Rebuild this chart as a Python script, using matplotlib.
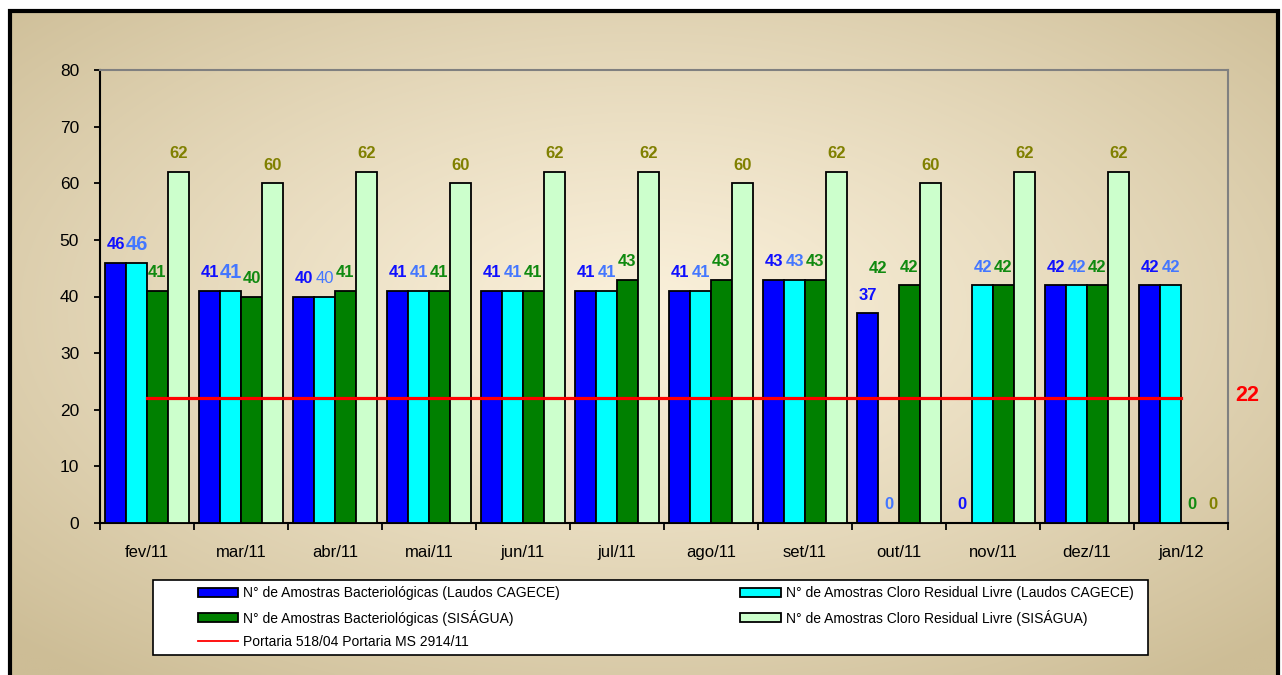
import numpy as np
import matplotlib.pyplot as plt
from matplotlib.patches import Rectangle, Patch
from matplotlib.lines import Line2D

plt.rcParams['font.family'] = ['Liberation Sans', 'DejaVu Sans']

# dados
meses = ['fev/11', 'mar/11', 'abr/11', 'mai/11', 'jun/11', 'jul/11',
         'ago/11', 'set/11', 'out/11', 'nov/11', 'dez/11', 'jan/12']
bact_cagece = [46, 41, 40, 41, 41, 41, 41, 43, 37, 0, 42, 42]
cloro_cagece = [46, 41, 40, 41, 41, 41, 41, 43, 0, 42, 42, 42]
bact_sisagua = [41, 40, 41, 41, 41, 43, 43, 43, 42, 42, 42, 0]
cloro_sisagua = [62, 60, 62, 60, 62, 62, 60, 62, 60, 62, 62, 0]
portaria = 22

nomes = ['N° de Amostras Bacteriológicas (Laudos CAGECE)',
         'N° de Amostras Cloro Residual Livre (Laudos CAGECE)',
         'N° de Amostras Bacteriológicas (SISÁGUA)',
         'N° de Amostras Cloro Residual Livre (SISÁGUA)',
         'Portaria 518/04 Portaria MS 2914/11']

W, H = 1282, 675
fig = plt.figure(figsize=(W / 100, H / 100), dpi=100)
fig.patch.set_facecolor('white')

# fundo em degradê bege
bg = fig.add_axes([9 / W, 0, 1270 / W, 665 / H], zorder=-10)
yy, xx = np.mgrid[0:1:300j, 0:1:600j]
r = np.sqrt(((xx - 0.5) / 0.5) ** 2 + ((yy - 0.45) / 0.5) ** 2) / np.sqrt(2)
t = np.clip(r, 0, 1) ** 1.2
centro = np.array([250, 240, 218]) / 255
borda = np.array([205, 189, 150]) / 255
bg.imshow(centro + (borda - centro) * t[..., None], aspect='auto',
          extent=(0, 1, 0, 1), interpolation='bilinear')
bg.axis('off')

fig.patches.append(Rectangle((10 / W, -0.05), 1268 / W, 664 / H + 0.05,
                             transform=fig.transFigure, fill=False,
                             edgecolor='black', lw=3, zorder=-5))

ax = fig.add_axes([100 / W, 152 / H, 1128 / W, 453 / H])
ax.patch.set_alpha(0)

x = np.arange(len(meses))
w = 0.223
series = [
    (bact_cagece, '#0000ff', '#1010ff'),
    (cloro_cagece, '#00ffff', '#4477ff'),
    (bact_sisagua, '#008000', '#108a10'),
    (cloro_sisagua, '#ccffcc', '#808000'),
]
# rótulos com tamanho diferente no original
tamanho = {(1, 0): 14.5, (1, 1): 14.5}
peso = {(1, 2): 'normal'}

for k, (vals, cor, cor_txt) in enumerate(series):
    pos = x + (k - 1.5) * w
    ax.bar(pos, vals, width=w, color=cor, edgecolor='black', lw=1.3, zorder=3)
    for i, (px, v) in enumerate(zip(pos, vals)):
        ax.annotate(str(v), (px, v), xytext=(0, 13), textcoords='offset points',
                    ha='center', va='center', color=cor_txt,
                    fontsize=tamanho.get((k, i), 12),
                    fontweight=peso.get((k, i), 'bold'))

# rótulo deslocado que aparece em out/11
ax.annotate(str(bact_sisagua[8]), (x[8] - w, bact_sisagua[8]), xytext=(0, 12),
            textcoords='offset points', ha='center', va='center',
            color='#108a10', fontsize=12, fontweight='bold')

ax.plot(x, [portaria] * len(x), color='red', lw=2.3, zorder=5)
ax.text(1.017, portaria + 0.5, str(portaria), transform=ax.get_yaxis_transform(),
        ha='center', va='center', color='red', fontsize=15.5, fontweight='bold')

ax.set_xlim(-0.5, len(meses) - 0.5)
ax.set_ylim(0, 80)
ax.set_yticks(range(0, 81, 10))
ax.set_xticks(x)
ax.set_xticklabels(meses)
ax.set_xticks(np.arange(-0.5, len(meses), 1), minor=True)
ax.tick_params(axis='x', which='major', length=0, pad=16, labelsize=12)
ax.tick_params(axis='x', which='minor', length=5, width=1.3, direction='out')
ax.tick_params(axis='y', length=4, width=1.3, direction='out', pad=11, labelsize=12.5)
for lado in ['left', 'bottom']:
    ax.spines[lado].set_color('black')
    ax.spines[lado].set_linewidth(1.5)
for lado in ['top', 'right']:
    ax.spines[lado].set_color('#808080')
    ax.spines[lado].set_linewidth(1.5)

# legenda
fig.patches.append(Rectangle((153 / W, 20 / H), 995 / W, 75 / H,
                             transform=fig.transFigure, facecolor='white',
                             edgecolor='black', lw=1.2, zorder=1))
h = [Patch(facecolor=c, edgecolor='black', lw=1.3) for _, c, _ in series]
linha = Line2D([], [], color='red', lw=1.3)
fig.legend([h[0], h[2], linha, h[1], h[3]],
           [nomes[0], nomes[2], nomes[4], nomes[1], nomes[3]],
           ncol=2, loc='center', mode='expand', frameon=False,
           bbox_to_anchor=(188 / W, 20 / H, 955 / W, 75 / H),
           fontsize=10, handlelength=2.9, handleheight=0.6,
           handletextpad=0.35, labelspacing=0.65, borderpad=0.2)

fig.savefig('out.png', dpi=100)
